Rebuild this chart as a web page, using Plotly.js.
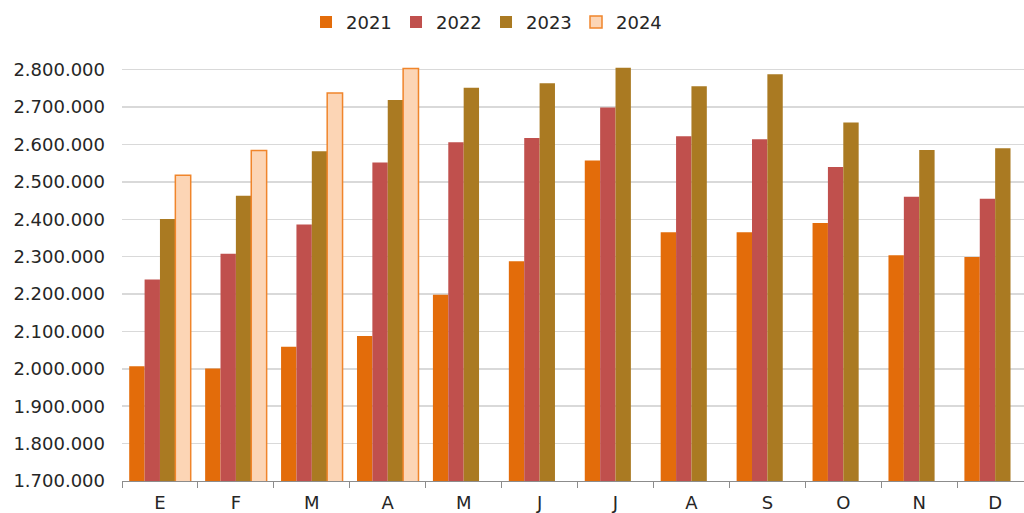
<!DOCTYPE html>
<html>
<head>
<meta charset="utf-8">
<script src="https://cdn.plot.ly/plotly-3.0.1.min.js"></script>
<style>
  html, body { margin: 0; padding: 0; background: #ffffff; }
  #chart { width: 1024px; height: 513px; }
</style>
</head>
<body>
<div id="chart"></div>
<script>
const monthLabels = ['E', 'F', 'M', 'A', 'M', 'J', 'J', 'A', 'S', 'O', 'N', 'D'];
const seriesNames = ['2021', '2022', '2023', '2024'];
const values2021 = [2007000, 2001000, 2059000, 2088000, 2198000, 2288000, 2557000, 2365000, 2365000, 2390000, 2304000, 2299000];
const values2022 = [2239000, 2308000, 2386000, 2552000, 2606000, 2617000, 2699000, 2622000, 2614000, 2540000, 2460000, 2455000];
const values2023 = [2401000, 2463000, 2582000, 2719000, 2752000, 2764000, 2805000, 2756000, 2788000, 2659000, 2585000, 2590000];
const values2024 = [2518000, 2584000, 2738000, 2803000, null, null, null, null, null, null, null, null];
const yTickValues = [1700000, 1800000, 1900000, 2000000, 2100000, 2200000, 2300000, 2400000, 2500000, 2600000, 2700000, 2800000];

const xIndex = monthLabels.map((_, i) => i);
const boundaries = monthLabels.map((_, i) => i - 0.5).concat([monthLabels.length - 0.5]);

const fontFamily = '"DejaVu Sans", Verdana, sans-serif';
const textColor = '#262626';
const fontSize = 18;

function barTrace(name, vals, color, lineColor, lineWidth) {
  return {
    type: 'bar',
    name: name,
    x: xIndex,
    y: vals,
    marker: { color: color, line: { color: lineColor, width: lineWidth } },
    hoverinfo: 'x+y+name'
  };
}

const data = [
  barTrace(seriesNames[0], values2021, '#E36C0A', '#E36C0A', 0),
  barTrace(seriesNames[1], values2022, '#C0504D', '#C0504D', 0),
  barTrace(seriesNames[2], values2023, '#AA7A22', '#AA7A22', 0),
  barTrace(seriesNames[3], values2024, '#FCD5B5', '#F0852B', 1.5)
];

const layout = {
  width: 1024,
  height: 513,
  paper_bgcolor: '#ffffff',
  plot_bgcolor: '#ffffff',
  separators: ',.',
  margin: { l: 122, r: 0, t: 51, b: 32 },
  barmode: 'group',
  bargap: 0.19,
  bargroupgap: 0,
  font: { family: fontFamily, size: fontSize, color: textColor },
  showlegend: true,
  legend: {
    orientation: 'h',
    x: 0.204,
    xanchor: 'left',
    y: 1.067,
    yanchor: 'middle',
    entrywidth: 45,
    entrywidthmode: 'pixels',
    font: { family: fontFamily, size: fontSize, color: textColor },
    traceorder: 'normal'
  },
  xaxis: {
    type: 'linear',
    range: [-0.5, 11.38],
    tickmode: 'array',
    tickvals: xIndex,
    ticktext: monthLabels,
    ticks: '',
    ticklabelstandoff: 5,
    showgrid: false,
    zeroline: false,
    showline: true,
    linecolor: '#8c8c8c',
    linewidth: 1,
    tickfont: { family: fontFamily, size: fontSize, color: textColor },
    minor: {
      tickmode: 'array',
      tickvals: boundaries,
      ticks: 'outside',
      ticklen: 6,
      tickwidth: 1,
      tickcolor: '#8c8c8c',
      showgrid: false
    },
    fixedrange: true
  },
  yaxis: {
    range: [1700000, 2850000],
    tickmode: 'array',
    tickvals: yTickValues,
    tickformat: ',d',
    ticks: '',
    ticklabelstandoff: 16,
    showgrid: true,
    gridcolor: '#d9d9d9',
    gridwidth: 1.5,
    zeroline: false,
    showline: false,
    tickfont: { family: fontFamily, size: fontSize, color: textColor },
    fixedrange: true
  }
};

Plotly.newPlot('chart', data, layout, { displayModeBar: false, staticPlot: true });
</script>
</body>
</html>
